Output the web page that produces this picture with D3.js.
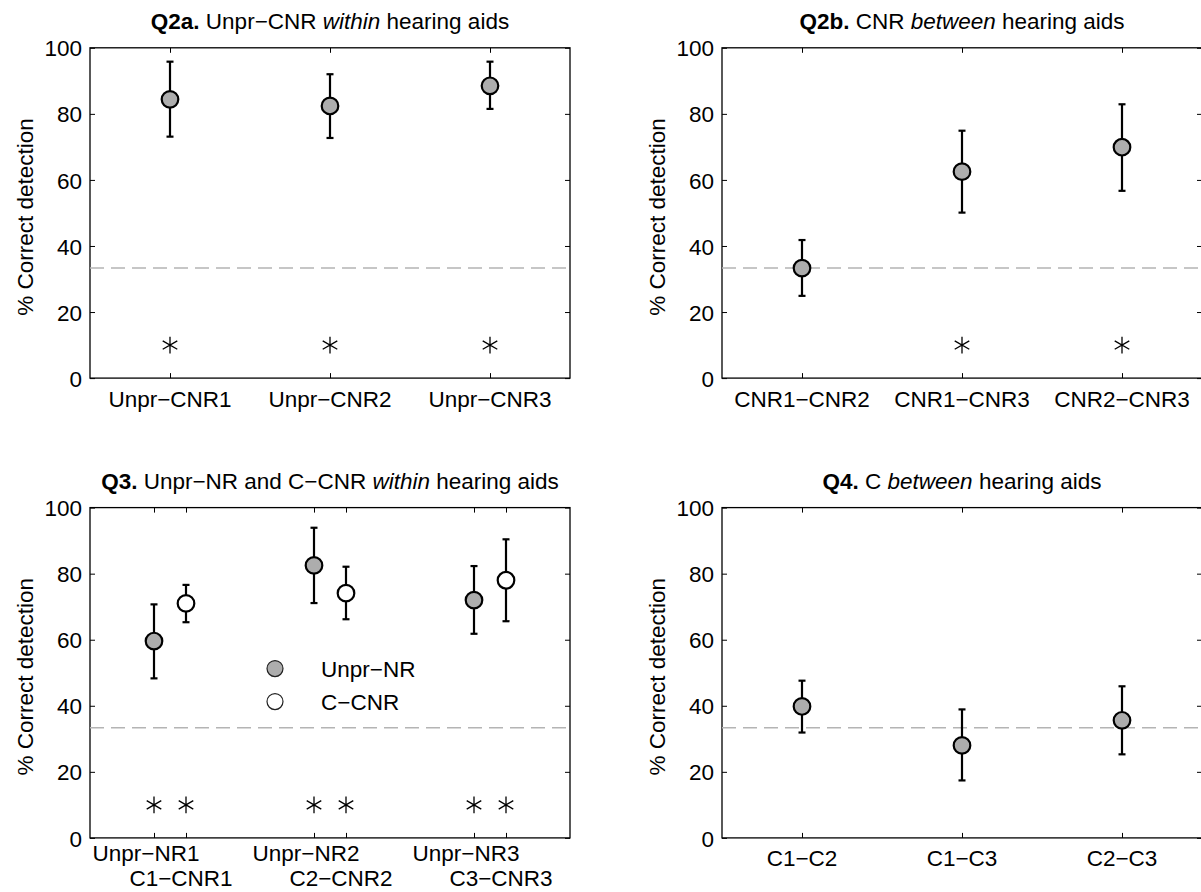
<!DOCTYPE html>
<html>
<head>
<meta charset="utf-8">
<script src="https://cdn.jsdelivr.net/npm/d3@7"></script>
<style>
  html, body { margin: 0; padding: 0; background: #fff; }
  svg { display: block; font-family: "Liberation Sans", Arial, Helvetica, sans-serif; }
</style>
</head>
<body>
<svg id="fig" width="1201" height="892"></svg>
<script>
// ---- data -------------------------------------------------------------
const yTicks = [0, 20, 40, 60, 80, 100];
const chanceLevel = 33.33;
const starLevel = 10;

// Q2a: unprocessed vs CNR within each hearing aid
const q2aCategories = ["Unpr−CNR1", "Unpr−CNR2", "Unpr−CNR3"];
const q2aMean = [84.4, 82.4, 88.5];
const q2aLow  = [73.1, 72.7, 81.5];
const q2aHigh = [95.8, 92.0, 95.8];
const q2aSig  = [true, true, true];

// Q2b: CNR between hearing aids
const q2bCategories = ["CNR1−CNR2", "CNR1−CNR3", "CNR2−CNR3"];
const q2bMean = [33.3, 62.5, 69.9];
const q2bLow  = [24.9, 50.1, 56.7];
const q2bHigh = [41.8, 74.9, 82.9];
const q2bSig  = [false, true, true];

// Q3: Unpr-NR and C-CNR within hearing aids
const q3TopLabels    = ["Unpr−NR1", "Unpr−NR2", "Unpr−NR3"];
const q3BottomLabels = ["C1−CNR1", "C2−CNR2", "C3−CNR3"];
const q3NrMean  = [59.6, 82.5, 72.0];
const q3NrLow   = [48.3, 71.1, 61.8];
const q3NrHigh  = [70.7, 93.9, 82.3];
const q3CnrMean = [71.0, 74.1, 78.0];
const q3CnrLow  = [65.3, 66.2, 65.6];
const q3CnrHigh = [76.6, 82.1, 90.4];
const q3Sig     = [true, true, true];
const q3SeriesNames = ["Unpr−NR", "C−CNR"];

// Q4: compression between hearing aids
const q4Categories = ["C1−C2", "C1−C3", "C2−C3"];
const q4Mean = [39.8, 28.0, 35.6];
const q4Low  = [31.9, 17.4, 25.3];
const q4High = [47.6, 38.9, 45.9];
const q4Sig  = [false, false, false];

// ---- drawing ----------------------------------------------------------
const svg = d3.select("#fig");
const FONT = 22.5;
const GREY = "#adadad";

function makePanel(opt) {
  const g = svg.append("g");
  const left = opt.left, top = opt.top, w = 480, h = 330.3;
  const x = d3.scaleLinear().domain([0.5, 3.5]).range([left, left + w]);
  const y = d3.scaleLinear().domain([0, 100]).range([top + h, top]);

  // title: bold tag, regular text, italic keyword
  const t = g.append("text")
    .attr("x", left + w / 2).attr("y", top - 18.5)
    .attr("text-anchor", "middle").attr("font-size", FONT);
  opt.title.forEach(part => {
    t.append("tspan").text(part.s)
      .attr("font-weight", part.b ? "bold" : null)
      .attr("font-style", part.i ? "italic" : null);
  });

  // y label
  g.append("text")
    .attr("transform", `translate(${left - 57},${top + h / 2 + 4}) rotate(-90)`)
    .attr("text-anchor", "middle").attr("font-size", FONT)
    .text("% Correct detection");

  // axes with inward ticks
  const yl = g.append("g").attr("transform", `translate(${left},0)`)
    .call(d3.axisLeft(y).tickValues(yTicks).tickSizeInner(-5).tickSizeOuter(0).tickPadding(8));
  const yr = g.append("g").attr("transform", `translate(${left + w},0)`)
    .call(d3.axisRight(y).tickValues(yTicks).tickSizeInner(-5).tickSizeOuter(0).tickFormat(""));
  const xt = g.append("g").attr("transform", `translate(0,${top})`)
    .call(d3.axisTop(x).tickValues(opt.tickPos).tickSizeInner(-5).tickSizeOuter(0).tickFormat(""));
  const xb = g.append("g").attr("transform", `translate(0,${top + h})`)
    .call(d3.axisBottom(x).tickValues(opt.tickPos).tickSizeInner(-5).tickSizeOuter(0).tickFormat(""));
  [yl, yr, xt, xb].forEach(a => {
    a.select(".domain").remove();
    a.attr("font-size", FONT).attr("font-family", null);
    a.selectAll("line").attr("stroke", "#000").attr("stroke-width", 1);
    a.selectAll("text").attr("fill", "#000");
  });
  yl.selectAll("text").attr("dy", "0.36em");

  // box
  g.append("rect").attr("x", left).attr("y", top).attr("width", w).attr("height", h)
    .attr("fill", "none").attr("stroke", "#000").attr("stroke-width", 1.3);

  // category labels
  opt.labels.forEach(lab => {
    g.append("g").selectAll("text").data(lab.text).join("text")
      .attr("x", (d, i) => x(i + 1 + lab.off) + lab.dx)
      .attr("y", top + h + lab.dy)
      .attr("text-anchor", "middle").attr("font-size", FONT)
      .text(d => d);
  });

  // chance level
  g.append("line")
    .attr("x1", left).attr("x2", left + w)
    .attr("y1", y(chanceLevel)).attr("y2", y(chanceLevel))
    .attr("stroke", "#b4b4b4").attr("stroke-width", 1.5)
    .attr("stroke-dasharray", "14,7");

  // series: error bars, markers, significance stars
  const star = d3.symbol().type(d3.symbolAsterisk).size(200);
  opt.series.forEach(s => {
    const pts = s.mean.map((m, i) => ({ xv: i + 1 + s.off, m, lo: s.low[i], hi: s.high[i], sig: s.sig[i] }));
    const sg = g.append("g");
    sg.selectAll("line.eb").data(pts).join("line").attr("class", "eb")
      .attr("x1", d => x(d.xv)).attr("x2", d => x(d.xv))
      .attr("y1", d => y(d.lo)).attr("y2", d => y(d.hi))
      .attr("stroke", "#000").attr("stroke-width", 2.2);
    ["lo", "hi"].forEach(k => {
      sg.selectAll("line.cap" + k).data(pts).join("line").attr("class", "cap" + k)
        .attr("x1", d => x(d.xv) - 3.5).attr("x2", d => x(d.xv) + 3.5)
        .attr("y1", d => y(d[k])).attr("y2", d => y(d[k]))
        .attr("stroke", "#000").attr("stroke-width", 2.2);
    });
    sg.selectAll("circle").data(pts).join("circle")
      .attr("cx", d => x(d.xv)).attr("cy", d => y(d.m)).attr("r", 8.3)
      .attr("fill", s.fill).attr("stroke", "#000").attr("stroke-width", 2.2);
    sg.selectAll("path.star").data(pts.filter(d => d.sig)).join("path").attr("class", "star")
      .attr("transform", d => `translate(${x(d.xv)},${y(starLevel)})`)
      .attr("d", star).attr("fill", "none").attr("stroke", "#000").attr("stroke-width", 1.3);
  });

  if (opt.legend) {
    const lg = g.append("g").attr("transform", `translate(${left + 185},${top + 161})`);
    opt.legend.forEach((item, i) => {
      lg.append("circle").attr("cx", 0).attr("cy", i * 33).attr("r", 8)
        .attr("fill", item.fill).attr("stroke", "#222").attr("stroke-width", 1.2);
      lg.append("text").attr("x", 46).attr("y", i * 33 + 8)
        .attr("font-size", FONT).text(item.name);
    });
  }
}

makePanel({
  left: 90, top: 47.8,
  title: [{ s: "Q2a.", b: true }, { s: " Unpr−CNR " }, { s: "within", i: true }, { s: " hearing aids" }],
  tickPos: [1, 2, 3],
  labels: [{ text: q2aCategories, off: 0, dx: 0, dy: 28.4 }],
  series: [{ mean: q2aMean, low: q2aLow, high: q2aHigh, sig: q2aSig, off: 0, fill: GREY }]
});

makePanel({
  left: 722, top: 47.8,
  title: [{ s: "Q2b.", b: true }, { s: " CNR " }, { s: "between", i: true }, { s: " hearing aids" }],
  tickPos: [1, 2, 3],
  labels: [{ text: q2bCategories, off: 0, dx: 0, dy: 28.4 }],
  series: [{ mean: q2bMean, low: q2bLow, high: q2bHigh, sig: q2bSig, off: 0, fill: GREY }]
});

makePanel({
  left: 90, top: 507.6,
  title: [{ s: "Q3.", b: true }, { s: " Unpr−NR and C−CNR " }, { s: "within", i: true }, { s: " hearing aids" }],
  tickPos: [0.9, 1.1, 1.9, 2.1, 2.9, 3.1],
  labels: [
    { text: q3TopLabels, off: -0.1, dx: -8, dy: 23.4 },
    { text: q3BottomLabels, off: 0.1, dx: -5, dy: 48.4 }
  ],
  series: [
    { mean: q3NrMean, low: q3NrLow, high: q3NrHigh, sig: q3Sig, off: -0.1, fill: GREY },
    { mean: q3CnrMean, low: q3CnrLow, high: q3CnrHigh, sig: q3Sig, off: 0.1, fill: "#fff" }
  ],
  legend: [{ name: q3SeriesNames[0], fill: GREY }, { name: q3SeriesNames[1], fill: "#fff" }]
});

makePanel({
  left: 722, top: 507.6,
  title: [{ s: "Q4.", b: true }, { s: " C " }, { s: "between", i: true }, { s: " hearing aids" }],
  tickPos: [1, 2, 3],
  labels: [{ text: q4Categories, off: 0, dx: 0, dy: 28.2 }],
  series: [{ mean: q4Mean, low: q4Low, high: q4High, sig: q4Sig, off: 0, fill: GREY }]
});
</script>
</body>
</html>
